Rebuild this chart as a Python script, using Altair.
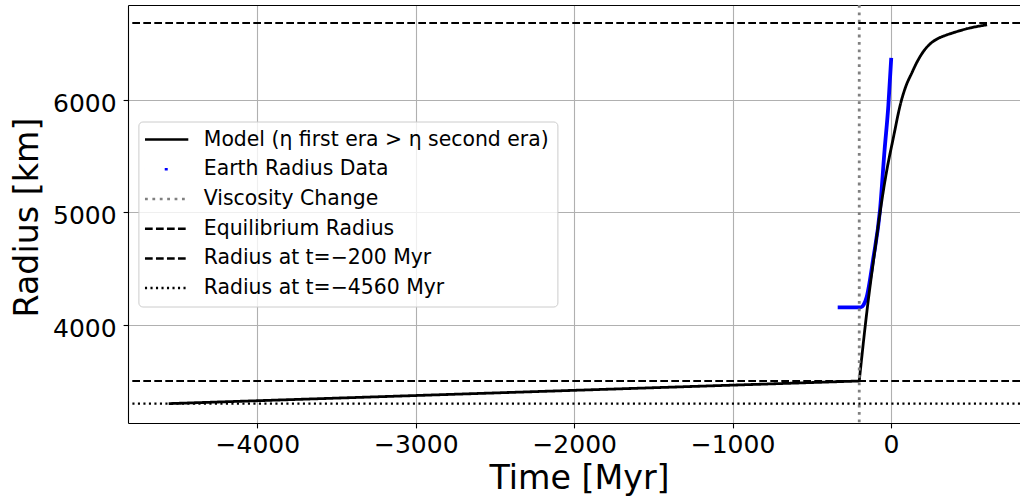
import altair as alt
import pandas as pd

# ---------------- data ----------------
labels = [
    "Model (η first era > η second era)",
    "Earth Radius Data",
    "Viscosity Change",
    "Equilibrium Radius",
    "Radius at t=−200 Myr",
    "Radius at t=−4560 Myr",
]

# model, first era (slow growth)
era1_t = [-4560, -200]
era1_r = [3302, 3503]
# model, second era (fast growth toward equilibrium)
era2_t = [-200, -149, -100, -69, -28, 15, 62, 95, 131, 165, 205, 247, 291, 342, 392, 499, 607]
era2_r = [3503, 4151, 4675, 4994, 5358, 5660, 5971, 6122, 6235, 6335, 6428, 6495, 6539, 6570, 6594, 6637, 6665]

# Earth radius data
data_t = [-336, -191, -173, -153, -113, -69, -40, -16, 2]
data_r = [4157, 4157, 4178, 4249, 4577, 5021, 5554, 5953, 6371]

viscosity_change_t = [-200]
hline_r = [6681, 3503, 3302]

x_ticks = [-4000, -3000, -2000, -1000, 0]
y_ticks = [4000, 5000, 6000]
x_domain = [-4817, 815]
y_domain = [3130, 6841]

# ---------------- styles ----------------
colors = ["#000000", "#0000ff", "#808080", "#000000", "#000000", "#000000"]
dashes = [[1, 0], [0.001, 19.75, 3, 200], [2.8, 4.6], [7.7, 3.3], [7.7, 3.3], [2.1, 3.4]]
FONT = "DejaVu Sans"

leg = alt.Legend(
    title=None, orient="none", legendX=10.4, legendY=116.5,
    symbolType="M-1.44,0L3.975,0", symbolSize=256, symbolStrokeWidth=2.5,
    labelFont=FONT, labelFontSize=20.4, labelColor="black", labelLimit=800,
    labelOffset=37.1, padding=7.9, rowPadding=8.7,
    fillColor="rgba(255,255,255,0.8)", strokeColor="#cccccc", cornerRadius=4,
)

color_scale = alt.Scale(domain=labels, range=colors)
dash_scale = alt.Scale(domain=labels, range=dashes)
xs = alt.Scale(domain=x_domain, nice=False, zero=False)
ys = alt.Scale(domain=y_domain, nice=False, zero=False)

color_enc = alt.Color("series:N", scale=color_scale, legend=leg)
dash_enc = alt.StrokeDash("series:N", scale=dash_scale, legend=leg)

x_axis = alt.Axis(
    values=x_ticks, format="d", grid=True, gridColor="#b0b0b0", gridWidth=1.1,
    domainColor="black", domainWidth=1.1, tickColor="black", tickWidth=1.1, tickSize=4.9,
    labelFont=FONT, labelFontSize=25, labelColor="black", labelBaseline="alphabetic",
    labelPadding=24.8, labelFlush=False, labelOverlap=False,
    title="Time [Myr]", titleFont=FONT, titleFontSize=33.3, titleFontWeight="normal",
    titleColor="black", titleBaseline="alphabetic", titleAlign="center",
    titleX=451, titleY=65.3,
)
y_axis = alt.Axis(
    values=y_ticks, format="d", grid=True, gridColor="#b0b0b0", gridWidth=1.1,
    domainColor="black", domainWidth=1.1, tickColor="black", tickWidth=1.1, tickSize=4.9,
    labelFont=FONT, labelFontSize=25, labelColor="black", labelBaseline="alphabetic",
    labelOffset=11.5, labelPadding=7, labelFlush=False, labelOverlap=False,
    title="Radius [km]", titleFont=FONT, titleFontSize=33.3, titleFontWeight="normal",
    titleColor="black", titleAngle=270, titleBaseline="alphabetic", titleAlign="center",
    titleX=-91, titleY=212,
)
top_axis = alt.Axis(orient="top", labels=False, ticks=False, grid=False, title=None,
                    domain=True, domainColor="black", domainWidth=1.1)

df_data = pd.DataFrame({"t": data_t, "r": data_r, "series": labels[1]})
df_era1 = pd.DataFrame({"t": era1_t, "r": era1_r, "series": labels[0]})
df_era2 = pd.DataFrame({"t": era2_t, "r": era2_r, "series": labels[0]})
df_vline = pd.DataFrame({"t": viscosity_change_t, "series": [labels[2]]})
df_hlines = pd.DataFrame({"r": hline_r, "series": labels[3:]})

Y = lambda: alt.Y("r:Q", scale=ys, axis=y_axis)

blue = alt.Chart(df_data).mark_line(interpolate="monotone", strokeWidth=3.8).encode(
    x=alt.X("t:Q", scale=xs, axis=top_axis),
    y=Y(),
    color=color_enc,
)
era1 = alt.Chart(df_era1).mark_line(strokeWidth=2.8).encode(
    x=alt.X("t:Q", scale=xs, axis=x_axis),
    y=Y(),
    color=color_enc, strokeDash=dash_enc,
)
era2 = alt.Chart(df_era2).mark_line(interpolate="monotone", strokeWidth=2.8).encode(
    x=alt.X("t:Q", scale=xs, axis=None),
    y=Y(),
    color=color_enc, strokeDash=dash_enc,
)
vline = alt.Chart(df_vline).mark_rule(strokeWidth=2.8).encode(
    x=alt.X("t:Q", scale=xs, axis=None),
    color=color_enc, strokeDash=dash_enc,
)
hlines = alt.Chart(df_hlines).mark_rule(strokeWidth=2.1).encode(
    y=Y(),
    color=color_enc, strokeDash=dash_enc,
)

chart = (
    alt.layer(blue, era1, era2, vline, hlines)
    .resolve_axis(x="independent")
    .properties(
        width=892, height=418,
        autosize=alt.AutoSizeParams(type="none"),
        padding={"left": 128, "top": 5, "right": 0, "bottom": 77},
        background="white",
    )
    .configure_view(stroke=None)
)

chart.save("out.html", embed_options={"renderer": "svg", "actions": False})
